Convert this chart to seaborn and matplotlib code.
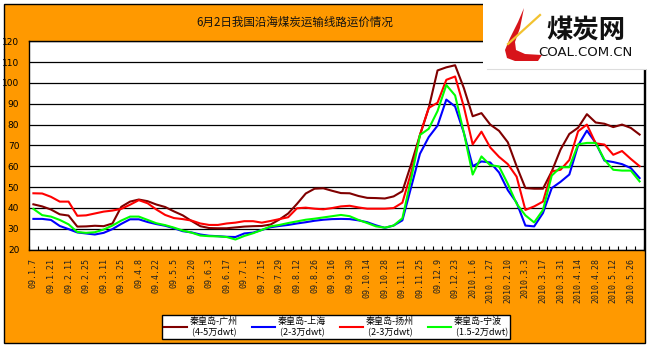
import numpy as np
import pandas as pd
import matplotlib
matplotlib.use("Agg")
import matplotlib.pyplot as plt
from matplotlib.patches import Rectangle, Polygon
from matplotlib.lines import Line2D
from matplotlib.ticker import FixedLocator
import seaborn as sns

# ---- data: weekly freight rates (yuan/ton), 2009.1.7 - 2010.6.2 ----
tick_labels = [
    "09.1.7", "09.1.21", "09.2.11", "09.2.25", "09.3.11", "09.3.25", "09.4.8",
    "09.4.22", "09.5.5", "09.5.20", "09.6.3", "09.6.17", "09.7.1", "09.7.15",
    "09.7.29", "09.8.12", "09.8.26", "09.9.16", "09.9.30", "09.10.14",
    "09.10.28", "09.11.11", "09.11.25", "09.12.9", "09.12.23", "2010.1.6",
    "2010.1.27", "2010.2.10", "2010.3.3", "2010.3.17", "2010.3.31",
    "2010.4.14", "2010.4.28", "2010.5.12", "2010.5.26",
]

guangzhou = [
    41.7, 40.7, 39.2, 36.9, 36.3, 31.0, 31.1, 31.4, 31.2, 32.5,
    40.5, 43.0, 44.0, 43.2, 41.6, 40.4, 38.3, 36.4, 33.7, 31.2,
    30.3, 30.2, 30.2, 30.6, 31.0, 31.2, 31.3, 32.0, 34.4, 37.3,
    41.9, 46.9, 49.2, 49.4, 48.2, 47.1, 47.0, 45.7, 44.8, 44.7,
    44.5, 45.5, 48.0, 61.0, 75.0, 88.0, 106.0, 107.5, 108.5, 97.5,
    84.0, 85.5, 80.0, 77.0, 71.5, 60.0, 49.5, 49.2, 49.2, 57.5,
    68.0, 75.5, 78.5, 85.0, 81.0, 80.4, 78.8, 80.0, 78.4, 75.2,
]
shanghai = [
    34.7, 34.7, 34.2, 31.3, 29.8, 28.2, 27.7, 27.2, 28.0, 29.8,
    32.3, 34.5, 34.5, 33.2, 32.2, 31.4, 30.2, 28.8, 28.2, 27.2,
    26.6, 26.4, 26.1, 26.0, 27.7, 28.1, 29.4, 30.7, 31.3, 31.8,
    32.5, 33.1, 33.8, 34.3, 34.6, 34.7, 34.6, 34.0, 33.1, 31.6,
    30.4, 31.5, 34.0, 50.0, 66.0, 74.0, 79.5, 92.0, 88.7, 76.0,
    60.0, 62.3, 61.8, 57.0, 48.5, 42.5, 31.5, 31.1, 37.5, 49.5,
    52.5, 56.0, 70.0, 77.1, 71.2, 62.7, 62.0, 61.0, 59.1, 54.3,
]
yangzhou = [
    47.0, 46.9, 45.3, 43.0, 43.0, 36.2, 36.4, 37.3, 38.2, 38.7,
    39.5, 41.5, 43.7, 42.2, 39.2, 36.6, 35.1, 34.6, 33.9, 32.5,
    31.8, 31.8, 32.5, 32.9, 33.6, 33.6, 32.9, 33.7, 34.6, 35.5,
    39.8, 40.1, 39.6, 39.3, 39.9, 40.7, 41.0, 40.2, 39.6, 39.6,
    39.6, 39.9, 42.5, 57.0, 75.0, 88.0, 90.5, 101.5, 103.1, 88.5,
    70.5, 76.6, 69.0, 64.5, 61.0, 55.0, 39.0, 40.7, 43.0, 57.5,
    58.3, 63.0, 76.8, 80.0, 71.0, 70.4, 65.5, 67.3, 63.5, 60.0,
]
ningbo = [
    39.5, 36.5, 35.8, 34.2, 32.1, 28.4, 28.0, 28.3, 29.6, 31.5,
    33.9, 35.8, 35.8, 34.2, 32.6, 31.7, 30.5, 29.1, 28.1, 26.7,
    26.4, 26.3, 26.0, 24.8, 26.5, 27.8, 29.4, 31.1, 31.8, 32.7,
    33.5, 34.3, 34.8, 35.4, 36.0, 36.6, 36.0, 34.2, 32.7, 31.1,
    30.5, 31.5, 35.0, 54.0, 75.0, 78.0, 86.5, 99.0, 94.0, 76.0,
    56.0, 64.7, 60.5, 59.9, 51.5, 42.0, 36.4, 33.0, 39.0, 55.5,
    59.5, 59.5, 70.5, 71.2, 71.2, 63.1, 58.3, 57.9, 57.9, 52.7,
]

routes = ["秦皇岛-广州", "秦皇岛-上海", "秦皇岛-扬州", "秦皇岛-宁波"]
sizes = ["(4-5万dwt)", "(2-3万dwt)", "(2-3万dwt)", "(1.5-2万dwt)"]
colors = ["#800000", "#0000FF", "#FF0000", "#00FF00"]

series = [guangzhou, shanghai, yangzhou, ningbo]
frames = []
for name, vals in zip(routes, series):
    frames.append(pd.DataFrame({"week": np.arange(len(vals)),
                                "price": vals, "route": name}))
df = pd.concat(frames, ignore_index=True)

# ---- figure ----
W, H = 649, 349
fig = plt.figure(figsize=(W / 100, H / 100), dpi=100)
fig.patch.set_facecolor("white")

cjk = ["Noto Sans CJK SC", "DejaVu Sans"]


def px(x, y):
    return (x / W, 1 - y / H)


# orange chart area with black frame
fig.add_artist(Rectangle(px(4, 343), 641 / W, 339 / H, transform=fig.transFigure,
                         facecolor="#FF9900", edgecolor="black", lw=1.0, zorder=-1))

ax = fig.add_axes([29 / W, 1 - 249.5 / H, (644 - 29) / W, (249.5 - 41.3) / H])
ax.set_facecolor("white")

sns.lineplot(data=df, x="week", y="price", hue="route", hue_order=routes,
             palette=colors, linewidth=1.5, ax=ax, legend=False, sort=False)

n = len(guangzhou)
ax.set_xlim(-0.5, n - 0.5)
ax.set_ylim(20, 120)
ax.set_yticks(np.arange(20, 121, 10))
ax.yaxis.grid(True, color="black", lw=0.9)
ax.xaxis.grid(False)
ax.set_axisbelow(True)
ax.set_xlabel("")
ax.set_ylabel("")

ax.xaxis.set_major_locator(FixedLocator(np.arange(0, 2 * len(tick_labels), 2)))
ax.set_xticklabels(tick_labels, rotation=90, fontsize=6,
                   family="DejaVu Sans Mono", color="#222222")
ax.xaxis.set_minor_locator(FixedLocator(np.arange(-0.5, n, 1.0)))
ax.tick_params(axis="x", which="major", length=0, pad=6)
ax.tick_params(axis="x", which="minor", direction="in", length=3,
               width=0.8, color="black")
ax.tick_params(axis="y", length=0, pad=7, labelsize=6.5, labelcolor="black")

for s in ax.spines.values():
    s.set_color("black")
    s.set_linewidth(1.0)

# title
fig.text(*px(295, 22), "6月2日我国沿海煤炭运输线路运价情况", ha="center",
         va="center", fontsize=8.3, family=cjk, color="#111111")

# logo block in the top-right corner
fig.add_artist(Rectangle(px(483, 69), (W - 483) / W, 69 / H,
                         transform=fig.transFigure, facecolor="white",
                         edgecolor="none", zorder=5))
fig.add_artist(Line2D([487 / W, 645 / W], [1 - 69 / H, 1 - 69 / H],
                      transform=fig.transFigure, color="#DDDDDD", lw=0.8, zorder=6))
red_mark = [(524, 8), (518, 22), (510, 38), (505, 50), (507, 58), (515, 61),
            (538, 61), (542, 55), (525, 54), (516, 50), (515, 42), (520, 28)]
fig.add_artist(Polygon([px(x, y) for x, y in red_mark], closed=True,
                       transform=fig.transFigure, facecolor="#D7141A",
                       edgecolor="none", zorder=6))
fig.add_artist(Line2D([508 / W, 540 / W], [1 - 44 / H, 1 - 15 / H],
                      transform=fig.transFigure, color="#F2C230", lw=1.6, zorder=7))
fig.text(*px(586, 30), "煤炭网", ha="center", va="center", fontsize=19,
         fontweight="bold", family=cjk, color="#111111", zorder=7)
fig.text(*px(585, 53), "COAL.COM.CN", ha="center", va="center", fontsize=9.5,
         family="DejaVu Sans", color="#111111", zorder=7)

# legend
handles = [Line2D([], [], color=c, lw=1.5) for c in colors]
labels = [f"{r}\n {s}" for r, s in zip(routes, sizes)]
leg = fig.legend(handles, labels, loc="center", bbox_to_anchor=px(336, 327),
                 ncol=4, frameon=True, fancybox=False, edgecolor="black",
                 facecolor="white", framealpha=1, handlelength=2.6,
                 handletextpad=0.3, columnspacing=1.5, borderpad=0.25,
                 prop={"family": cjk, "size": 6.5})
leg.get_frame().set_linewidth(1.0)

fig.savefig("out.png", dpi=100, facecolor=fig.get_facecolor())
